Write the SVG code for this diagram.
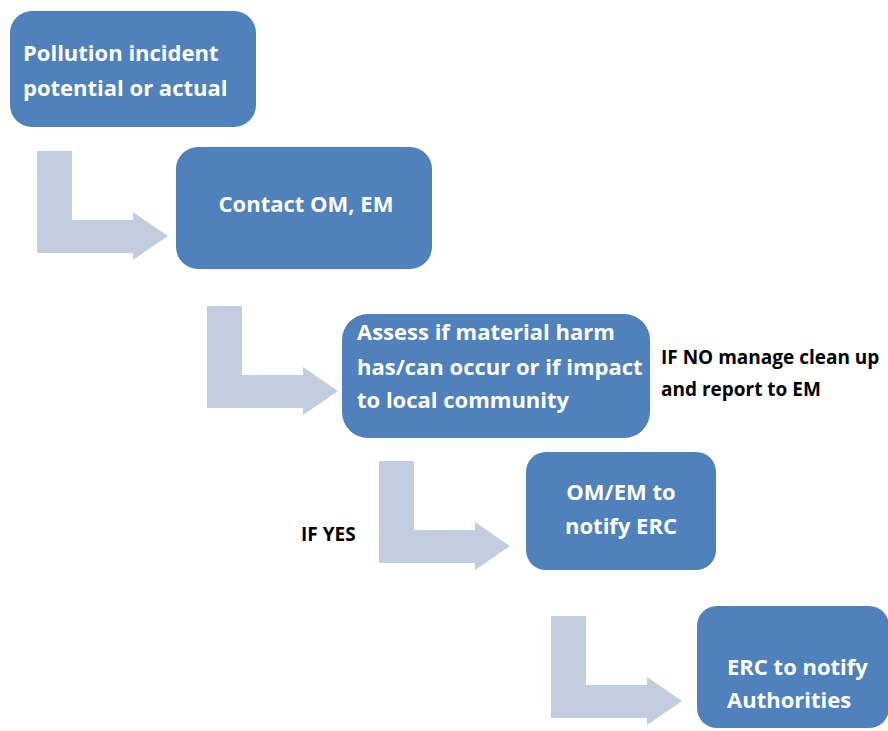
<svg xmlns="http://www.w3.org/2000/svg" width="888" height="731" viewBox="0 0 888 731">
<defs>
<style>
.box{fill:#4F81BD;}
.arr{fill:#C3CDE0;}
.t{font-family:"Open Sans","Liberation Sans",sans-serif;font-weight:700;font-size:22px;fill:#FFFFFF;}
.lbl{font-family:"Open Sans","Liberation Sans",sans-serif;font-weight:700;font-size:19px;fill:#000000;}
</style>
<path id="bend" d="M0,0 h35 v69 h61 v-8 l35,24 l-35,24 v-7 h-96 z"/>
</defs>
<g id="connectors">
<use href="#bend" class="arr" x="37" y="151"/>
<use href="#bend" class="arr" x="207" y="306"/>
<use href="#bend" class="arr" x="379" y="461"/>
<use href="#bend" class="arr" x="551" y="616"/>
</g>
<g id="n1">
<rect class="box" x="10" y="11" width="246" height="116" rx="22"/>
<text class="t" x="23" y="61">Pollution incident</text>
<text class="t" x="23" y="96">potential or actual</text>
</g>
<g id="n2">
<rect class="box" x="176" y="147" width="256" height="122" rx="22"/>
<text class="t" x="306" y="212" text-anchor="middle">Contact OM, EM</text>
</g>
<g id="n3">
<rect class="box" x="342" y="314" width="308" height="124" rx="26"/>
<text class="t" x="357" y="340">Assess if material harm</text>
<text class="t" x="357" y="375">has/can occur or if impact</text>
<text class="t" x="357" y="408">to local community</text>
</g>
<g id="n4">
<rect class="box" x="526" y="452" width="190" height="118" rx="20"/>
<text class="t" x="621" y="500" text-anchor="middle">OM/EM to</text>
<text class="t" x="621" y="534" text-anchor="middle">notify ERC</text>
</g>
<g id="n5">
<rect class="box" x="697" y="606" width="192" height="122" rx="20"/>
<text class="t" x="727" y="675">ERC to notify</text>
<text class="t" x="727" y="708">Authorities</text>
</g>
<g id="labels">
<text class="lbl" x="661" y="364">IF NO manage clean up</text>
<text class="lbl" x="661" y="396">and report to EM</text>
<text class="lbl" x="301" y="541">IF YES</text>
</g>
</svg>
